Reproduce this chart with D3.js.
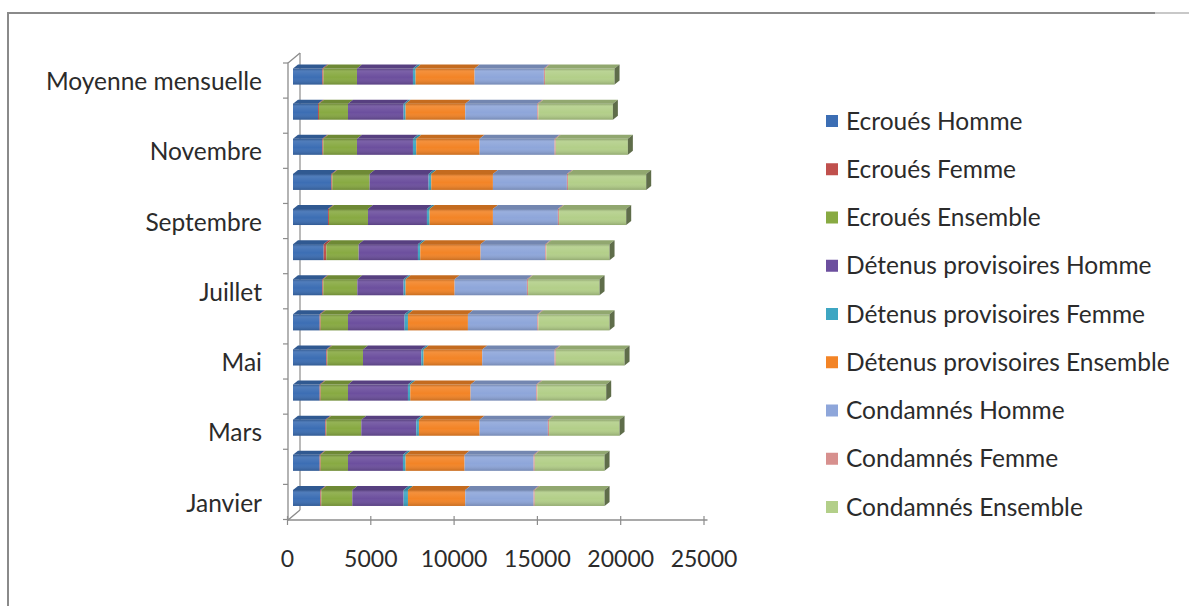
<!DOCTYPE html>
<html>
<head>
<meta charset="utf-8">
<script src="https://cdn.jsdelivr.net/npm/d3@7"></script>
<style>
  html, body { margin: 0; padding: 0; background: #ffffff; }
  svg { display: block; }
  text { font-family: Lato, "Open Sans", sans-serif; fill: #2b2b2b; }
</style>
</head>
<body>
<svg id="chart" width="1189" height="606"></svg>
<script>
// Categories, bottom to top
const months = ["Janvier", "Février", "Mars", "Avril", "Mai", "Juin", "Juillet",
  "Août", "Septembre", "Octobre", "Novembre", "Décembre", "Moyenne mensuelle"];

// Series, in stacking order
const seriesNames = ["Ecroués Homme", "Ecroués Femme", "Ecroués Ensemble",
  "Détenus provisoires Homme", "Détenus provisoires Femme", "Détenus provisoires Ensemble",
  "Condamnés Homme", "Condamnés Femme", "Condamnés Ensemble"];

const ecrouesHomme      = [1640, 1600, 1940, 1600, 2000, 1600, 1760, 1840, 2100, 2300, 1760, 1500, 1760];
const ecrouesFemme      = [60, 60, 60, 60, 60, 60, 60, 160, 60, 60, 60, 60, 70];
const ecrouesEnsemble   = [1860, 1640, 2100, 1640, 2140, 1640, 2040, 1940, 2340, 2240, 2020, 1740, 2010];
const detenusHomme      = [3080, 3300, 3300, 3600, 3500, 3400, 2780, 3560, 3540, 3540, 3360, 3340, 3360];
const detenusFemme      = [260, 160, 160, 140, 140, 200, 120, 140, 160, 160, 200, 120, 160];
const detenusEnsemble   = [3440, 3540, 3640, 3620, 3520, 3600, 2940, 3620, 3800, 3700, 3800, 3580, 3540];
const condamnesHomme    = [4100, 4140, 4100, 3940, 4340, 4160, 4340, 3880, 3900, 4440, 4500, 4320, 4160];
const condamnesFemme    = [70, 70, 70, 70, 70, 70, 70, 70, 70, 70, 70, 70, 70];
const condamnesEnsemble = [4190, 4190, 4230, 4130, 4130, 4270, 4290, 3790, 4030, 4690, 4330, 4470, 4170];

const xTicks = [0, 5000, 10000, 15000, 20000, 25000];
const labelledMonths = ["Janvier", "Mars", "Mai", "Juillet", "Septembre", "Novembre", "Moyenne mensuelle"];

const seriesValues = [ecrouesHomme, ecrouesFemme, ecrouesEnsemble, detenusHomme, detenusFemme,
  detenusEnsemble, condamnesHomme, condamnesFemme, condamnesEnsemble];
const colors = ["#3c6eb4", "#c0504d", "#88aa42", "#6c4f9e", "#3ea6c2", "#f38426",
  "#8ea6da", "#d7908e", "#b3cf89"];

const svg = d3.select("#chart");

// chart frame
svg.append("path")
  .attr("d", "M8,606 L8,13 L1155,13")
  .attr("fill", "none").attr("stroke", "#8a8a8a").attr("stroke-width", 2);
svg.append("line")
  .attr("x1", 1155).attr("y1", 13).attr("x2", 1189).attr("y2", 13)
  .attr("stroke", "#c8c8c8").attr("stroke-width", 2);

// scales
const x = d3.scaleLinear().domain([0, 25000]).range([287, 703.5]);
const y = d3.scaleBand().domain(months.slice().reverse()).range([63, 519.5]).padding(0);

// 3D offsets of the bar plane and the wall depth
const barDx = 6, barDy = -4;
const depthX = 5, depthY = -4;
const wallDx = 12, wallDy = -10;
const barH = 16;

// table of rows for the stack
const rows = months.map((m, i) => {
  const r = { month: m };
  seriesNames.forEach((s, k) => { r[s] = seriesValues[k][i]; });
  return r;
});
const stacked = d3.stack().keys(seriesNames)(rows);

// shading gradient for bar faces
const defs = svg.append("defs");
const g = defs.append("linearGradient").attr("id", "shade")
  .attr("x1", 0).attr("y1", 0).attr("x2", 0).attr("y2", 1);
g.append("stop").attr("offset", "0%").attr("stop-color", "#000").attr("stop-opacity", 0.22);
g.append("stop").attr("offset", "18%").attr("stop-color", "#fff").attr("stop-opacity", 0.10);
g.append("stop").attr("offset", "55%").attr("stop-color", "#fff").attr("stop-opacity", 0.0);
g.append("stop").attr("offset", "100%").attr("stop-color", "#000").attr("stop-opacity", 0.18);

// back wall of the category axis
const wallTop = 63, wallBot = 520, axX = 288;
svg.append("line")
  .attr("x1", axX + wallDx).attr("y1", wallTop + wallDy)
  .attr("x2", axX + wallDx).attr("y2", wallBot + wallDy)
  .attr("stroke", "#8c8c8c").attr("stroke-width", 1.2);

// bars
const barLayer = svg.append("g");
const xb = v => x(v) + barDx;
months.forEach((m, i) => {
  const yTop = y(m) + y.bandwidth() / 2 - barH / 2 + barDy;
  const gRow = barLayer.append("g");
  stacked.forEach((layer, k) => {
    const d = layer[i];
    const x0 = xb(d[0]), x1 = xb(d[1]);
    // top face
    gRow.append("path")
      .attr("d", `M${x0},${yTop} L${x1},${yTop} L${x1 + depthX},${yTop + depthY} L${x0 + depthX},${yTop + depthY} Z`)
      .attr("fill", d3.color(colors[k]).darker(0.6));
    // front face
    gRow.append("rect")
      .attr("x", x0).attr("y", yTop)
      .attr("width", Math.max(0, x1 - x0)).attr("height", barH)
      .attr("fill", colors[k]);
  });
  const total = stacked[stacked.length - 1][i][1];
  const xs = xb(0), xe = xb(total);
  gRow.append("rect")
    .attr("x", xs).attr("y", yTop).attr("width", xe - xs).attr("height", barH)
    .attr("fill", "url(#shade)");
  // side face at the end of the bar
  gRow.append("path")
    .attr("d", `M${xe},${yTop} L${xe + depthX},${yTop + depthY} L${xe + depthX},${yTop + barH + depthY} L${xe},${yTop + barH} Z`)
    .attr("fill", "#5f6d4a");
});

// front edge of the category axis with its slants
svg.append("path")
  .attr("d", `M${axX + wallDx},${wallTop + wallDy} L${axX},${wallTop} L${axX},${wallBot} L${axX + wallDx},${wallBot + wallDy}`)
  .attr("fill", "none").attr("stroke", "#8c8c8c").attr("stroke-width", 1.3);

// category ticks at band boundaries
const bounds = months.map(m => y(m) + y.bandwidth()).concat([y(months[months.length - 1])]);
svg.append("g").selectAll("line").data(bounds).join("line")
  .attr("x1", axX - 5).attr("x2", axX).attr("y1", d => d).attr("y2", d => d)
  .attr("stroke", "#8c8c8c").attr("stroke-width", 1.2);

// category labels
svg.append("g").selectAll("text").data(labelledMonths).join("text")
  .attr("x", 262).attr("y", d => y(d) + y.bandwidth() / 2 + 1)
  .attr("dy", "0.35em").attr("text-anchor", "end")
  .style("font-size", "24.5px")
  .text(d => d);

// value axis
const xAxis = d3.axisBottom(x).tickValues(xTicks).tickSize(9).tickPadding(26)
  .tickFormat(d3.format("d"));
const axG = svg.append("g").attr("transform", "translate(0,516)").call(xAxis);
axG.select(".domain").attr("d", `M${x(0)},4H${x(25000) + 4}`).attr("stroke", "#8c8c8c").attr("stroke-width", 1.3);
axG.selectAll(".tick line").attr("stroke", "#8c8c8c").attr("stroke-width", 1.2);
axG.selectAll(".tick text").style("font-size", "23px").attr("fill", "#2b2b2b")
  .style("font-family", "Lato, 'Open Sans', sans-serif");

// legend
const legend = svg.append("g");
const legY = d3.scalePoint().domain(seriesNames).range([121, 507]);
seriesNames.forEach((s, k) => {
  legend.append("rect")
    .attr("x", 826).attr("y", legY(s) - 6).attr("width", 12).attr("height", 12)
    .attr("fill", colors[k]);
  legend.append("text")
    .attr("x", 846).attr("y", legY(s)).attr("dy", "0.35em")
    .style("font-size", "24.5px")
    .text(s);
});
</script>
</body>
</html>
